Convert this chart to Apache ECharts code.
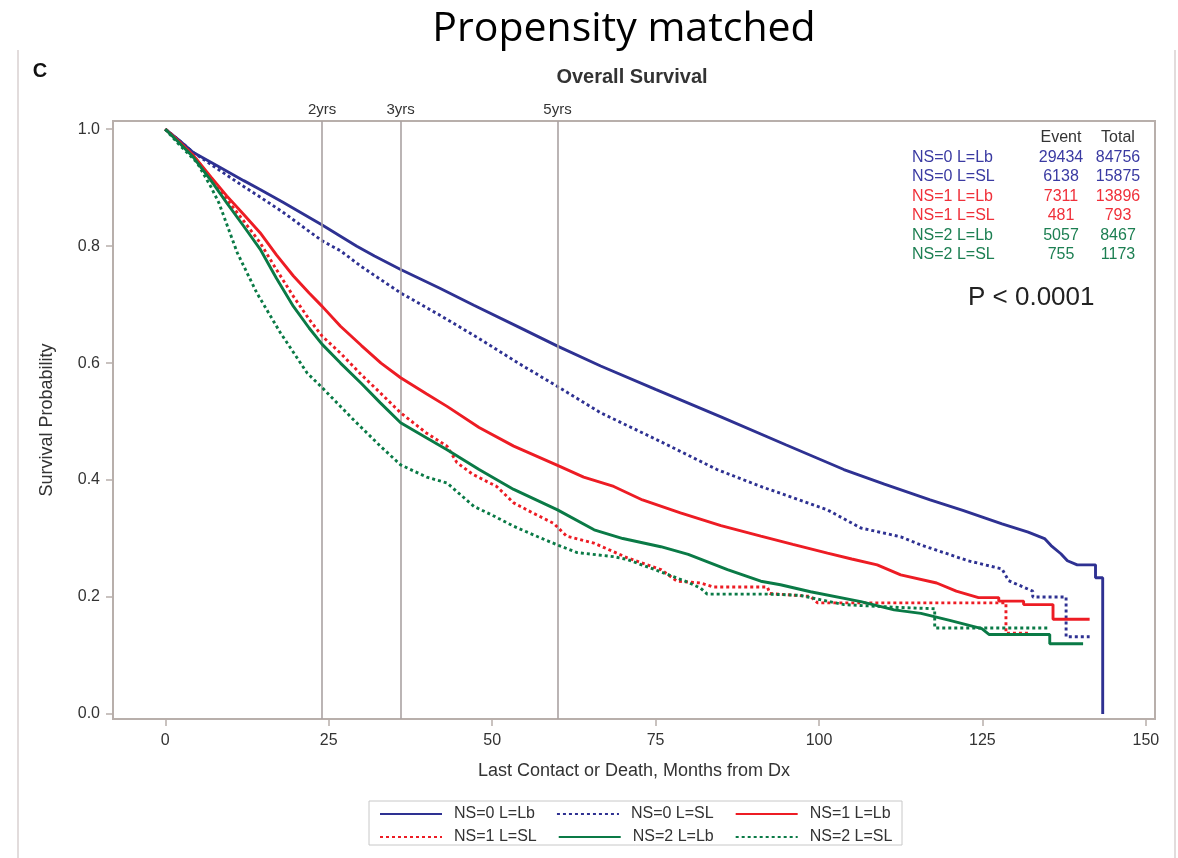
<!DOCTYPE html>
<html>
<head>
<meta charset="utf-8">
<script src="https://cdn.jsdelivr.net/npm/echarts@6/dist/echarts.min.js"></script>
<style>
html,body{margin:0;padding:0;background:#fff;}
#chart{width:1178px;height:858px;}
</style>
</head>
<body>
<div id="chart"></div>
<script>
// ---------- data ----------
const seriesNames = ['NS=0 L=Lb', 'NS=0 L=SL', 'NS=1 L=Lb', 'NS=1 L=SL', 'NS=2 L=Lb', 'NS=2 L=SL'];
const tableEvents = [29434, 6138, 7311, 481, 5057, 755];
const tableTotals = [84756, 15875, 13896, 793, 8467, 1173];
const xTicks = [0, 25, 50, 75, 100, 125, 150];
const yTicks = [0, 0.2, 0.4, 0.6, 0.8, 1.0];
const refMonths = [24, 36, 60];
const refLabels = ['2yrs', '3yrs', '5yrs'];
const pValueText = 'P < 0.0001';

// [months, survival probability]
const ns0Lb = [[0,1],[2,0.982],[4.3,0.96],[8,0.937],[12,0.912],[14.5,0.897],[18,0.875],[24,0.836],[26.8,0.817],[29.3,0.8],[32,0.783],[36,0.76],[42,0.728],[47.2,0.699],[54,0.662],[60,0.629],[66.6,0.595],[75,0.555],[85,0.508],[95,0.46],[103.8,0.418],[110,0.393],[117,0.366],[122,0.348],[128,0.325],[132,0.311],[134.5,0.3],[135.5,0.288],[137,0.274],[138,0.262],[139.5,0.255],[142.3,0.255],[142.3,0.233],[143.4,0.233],[143.4,0.0]];
const ns0SL = [[0,1],[2,0.982],[4.3,0.96],[8,0.932],[12,0.902],[14.5,0.884],[18,0.858],[24,0.809],[26.8,0.792],[30,0.765],[36,0.72],[42,0.682],[48,0.642],[54,0.6],[60,0.56],[66.6,0.515],[75,0.47],[84.4,0.418],[91.1,0.389],[101.3,0.349],[106.4,0.318],[112.5,0.303],[115.6,0.289],[122.8,0.262],[128,0.248],[129,0.228],[132.7,0.21],[132.7,0.2],[137.8,0.2],[137.8,0.132],[141.4,0.132]];
const ns1Lb = [[0,1],[2,0.98],[4.3,0.955],[7,0.918],[9.4,0.886],[12,0.854],[14.5,0.823],[17,0.785],[19.6,0.749],[22,0.72],[24,0.697],[26.8,0.663],[30,0.63],[33,0.6],[36,0.575],[40,0.547],[43.1,0.526],[48,0.49],[53.3,0.458],[60,0.425],[64,0.405],[68.6,0.389],[73,0.366],[78.8,0.344],[85,0.322],[91.1,0.304],[96,0.29],[101.3,0.275],[105,0.265],[108.9,0.255],[112.5,0.238],[118,0.224],[121,0.21],[124.4,0.199],[127.5,0.199],[127.5,0.193],[131.3,0.193],[131.3,0.187],[135.8,0.187],[135.8,0.162],[141.4,0.162]];
const ns1SL = [[0,1],[2,0.98],[4.3,0.955],[7,0.915],[9.4,0.88],[12,0.843],[14.5,0.806],[17,0.76],[19.6,0.714],[22,0.675],[24,0.646],[26.8,0.617],[30,0.58],[32.9,0.549],[36,0.515],[40,0.48],[43.1,0.458],[44.6,0.43],[47,0.41],[50.7,0.389],[53.3,0.361],[56,0.345],[59.4,0.326],[61.4,0.304],[65.6,0.292],[70.7,0.267],[75.8,0.247],[78.3,0.227],[81.9,0.224],[83.9,0.217],[92.1,0.217],[92.5,0.206],[98.7,0.201],[99.8,0.19],[128.6,0.19],[128.6,0.138],[132.4,0.138]];
const ns2Lb = [[0,1],[2,0.978],[4.3,0.952],[7,0.912],[9.4,0.874],[12,0.834],[14.5,0.795],[17,0.745],[19.6,0.697],[22,0.66],[24,0.632],[26.8,0.6],[30,0.565],[32.9,0.532],[36,0.498],[40,0.472],[43.1,0.452],[48,0.418],[53.3,0.384],[60,0.349],[65.6,0.315],[70,0.3],[75.8,0.286],[80,0.273],[86,0.247],[91.1,0.227],[94.1,0.221],[98.7,0.209],[106.4,0.192],[111.5,0.178],[115.6,0.172],[120,0.16],[124.9,0.146],[126,0.136],[135.3,0.136],[135.3,0.12],[140.4,0.12]];
const ns2SL = [[0,1],[2,0.975],[4.85,0.943],[6.9,0.903],[8.2,0.874],[11,0.789],[14,0.72],[17.6,0.652],[21.7,0.583],[24,0.558],[28.8,0.503],[32.9,0.458],[36,0.426],[40,0.405],[43.1,0.395],[47.2,0.355],[50,0.34],[53.3,0.321],[57,0.303],[60,0.289],[63,0.276],[68.6,0.269],[70.7,0.264],[76.3,0.241],[80,0.225],[81.9,0.215],[82.9,0.205],[92.1,0.205],[97,0.203],[103.8,0.187],[112.5,0.182],[117.7,0.18],[117.7,0.147],[135,0.147]];
const seriesData = [ns0Lb, ns0SL, ns1Lb, ns1SL, ns2Lb, ns2SL];

// ---------- styles ----------
const lineColors = ['#2E3192', '#2E3192', '#ED1C24', '#ED1C24', '#0A7A46', '#0A7A46'];
const textColors = ['#3A3AA2', '#3A3AA2', '#F0303A', '#F0303A', '#1C7F52', '#1C7F52'];
const dotted = [false, true, false, true, false, true];
const FONT = 'Liberation Sans, Arial, sans-serif';
const frameColor = '#b8afab';

const series = seriesNames.map((name, i) => ({
  name: name,
  type: 'line',
  data: seriesData[i],
  symbol: 'none',
  showSymbol: false,
  smooth: false,
  z: 3 + i,
  lineStyle: { color: lineColors[i], width: 2.9, type: dotted[i] ? [3, 3] : 'solid', cap: 'butt' },
  itemStyle: { color: lineColors[i] },
  emphasis: { disabled: true }
}));

series.push({
  name: 'ref',
  type: 'line',
  data: [],
  markLine: {
    silent: true,
    symbol: 'none',
    animation: false,
    lineStyle: { color: '#aaa2a2', width: 1.6, type: 'solid' },
    label: { show: true, position: 'end', distance: 4, color: '#333', fontSize: 15, fontFamily: FONT },
    data: refMonths.map((m, i) => ({ xAxis: m, label: { formatter: refLabels[i] } }))
  }
});

const graphics = [
  { type: 'line', shape: { x1: 18, y1: 50, x2: 18, y2: 858 }, style: { stroke: '#d8d0d0', lineWidth: 1.5 } },
  { type: 'line', shape: { x1: 1175, y1: 50, x2: 1175, y2: 858 }, style: { stroke: '#d8d0d0', lineWidth: 1.5 } },
  { type: 'text', x: 624, y: 29, style: { text: 'Propensity matched', fontFamily: 'Open Sans, sans-serif', fontSize: 41, fill: '#000', align: 'center', verticalAlign: 'middle' } },
  { type: 'text', x: 40, y: 71, style: { text: 'C', fontFamily: FONT, fontSize: 20, fontWeight: 'bold', fill: '#111', align: 'center', verticalAlign: 'middle' } },
  { type: 'text', x: 632, y: 77, style: { text: 'Overall Survival', fontFamily: FONT, fontSize: 20, fontWeight: 'bold', fill: '#333', align: 'center', verticalAlign: 'middle' } },
  { type: 'text', x: 1061, y: 138, style: { text: 'Event', fontFamily: FONT, fontSize: 16, fill: '#333', align: 'center', verticalAlign: 'middle' } },
  { type: 'text', x: 1118, y: 138, style: { text: 'Total', fontFamily: FONT, fontSize: 16, fill: '#333', align: 'center', verticalAlign: 'middle' } },
  { type: 'text', x: 968, y: 298, style: { text: pValueText, fontFamily: FONT, fontSize: 26, fill: '#222', align: 'left', verticalAlign: 'middle' } },
  { type: 'rect', shape: { x: 369, y: 801, width: 533, height: 44 }, style: { fill: 'none', stroke: '#c8c8c8', lineWidth: 1 } }
];
seriesNames.forEach((n, i) => {
  const y = 157.5 + i * 19.5;
  graphics.push({ type: 'text', x: 912, y: y, style: { text: n, fontFamily: FONT, fontSize: 16, fill: textColors[i], align: 'left', verticalAlign: 'middle' } });
  graphics.push({ type: 'text', x: 1061, y: y, style: { text: String(tableEvents[i]), fontFamily: FONT, fontSize: 16, fill: textColors[i], align: 'center', verticalAlign: 'middle' } });
  graphics.push({ type: 'text', x: 1118, y: y, style: { text: String(tableTotals[i]), fontFamily: FONT, fontSize: 16, fill: textColors[i], align: 'center', verticalAlign: 'middle' } });
});

const legendBase = {
  orient: 'horizontal',
  left: 379,
  padding: 0,
  itemWidth: 62,
  itemHeight: 14,
  itemGap: 21,
  selectedMode: false,
  itemStyle: { color: 'rgba(0,0,0,0)', borderColor: 'rgba(0,0,0,0)', borderWidth: 0, opacity: 0 },
  textStyle: { fontFamily: FONT, fontSize: 16, color: '#333', padding: [0, 0, 0, 7] }
};

const option = {
  animation: false,
  backgroundColor: '#fff',
  textStyle: { fontFamily: FONT },
  grid: { left: 113, top: 121, width: 1042, height: 598, show: true, borderColor: frameColor, borderWidth: 2, backgroundColor: 'transparent' },
  legend: [
    Object.assign({}, legendBase, { top: 806, data: seriesNames.slice(0, 3) }),
    Object.assign({}, legendBase, { top: 829, data: seriesNames.slice(3, 6) })
  ],
  xAxis: {
    type: 'value', min: -8, max: 151.4,
    name: 'Last Contact or Death, Months from Dx',
    nameLocation: 'middle', nameGap: 43,
    nameTextStyle: { fontFamily: FONT, fontSize: 18, color: '#333' },
    axisLine: { show: true, onZero: false, lineStyle: { color: frameColor, width: 2 } },
    axisTick: { show: true, length: 7, lineStyle: { color: frameColor, width: 1.5 }, customValues: xTicks },
    axisLabel: { fontFamily: FONT, fontSize: 16, color: '#333', margin: 14, customValues: xTicks },
    splitLine: { show: false }
  },
  yAxis: {
    type: 'value', min: -0.0086, max: 1.014,
    name: 'Survival Probability',
    nameLocation: 'middle', nameGap: 57,
    nameTextStyle: { fontFamily: FONT, fontSize: 18, color: '#333' },
    axisLine: { show: true, onZero: false, lineStyle: { color: frameColor, width: 2 } },
    axisTick: { show: true, length: 7, lineStyle: { color: frameColor, width: 1.5 }, customValues: yTicks },
    axisLabel: { fontFamily: FONT, fontSize: 16, color: '#333', margin: 13, customValues: yTicks, formatter: v => v.toFixed(1) },
    splitLine: { show: false }
  },
  graphic: graphics,
  series: series
};

const chart = echarts.init(document.getElementById('chart'), null, { renderer: 'canvas' });
chart.setOption(option);
</script>
</body>
</html>
